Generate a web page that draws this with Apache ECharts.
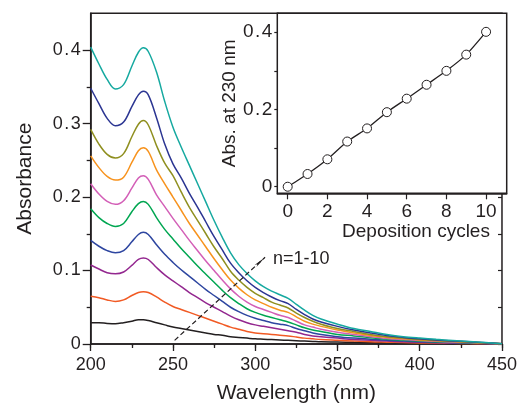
<!DOCTYPE html>
<html>
<head>
<meta charset="utf-8">
<script src="https://cdn.jsdelivr.net/npm/echarts@6/dist/echarts.min.js"></script>
<style>
html,body{margin:0;padding:0;background:#fff;}
#c{width:520px;height:409px;}
</style>
</head>
<body>
<div id="c"></div>
<script>
// ---- Data ----
const wavelengths = [200,205,210,215,220,225,229,232,235,240,245,250,255,260,265,270,275,280,285,290,295,300,305,310,315,320,325,330,335,340,350,360,370,380,390,400,410,420,430,440,450];

const n1  = [0.029,0.029,0.028,0.0275,0.029,0.031,0.033,0.033,0.032,0.029,0.026,0.023,0.021,0.019,0.017,0.015,0.013,0.012,0.010,0.009,0.008,0.007,0.0065,0.006,0.0055,0.005,0.0045,0.004,0.0035,0.003,0.0027,0.0023,0.002,0.0017,0.0014,0.0012,0.001,0.0008,0.0005,0.0003,0.0001];
const n2  = [0.065,0.063,0.060,0.058,0.060,0.066,0.070,0.071,0.070,0.064,0.057,0.051,0.047,0.043,0.039,0.035,0.031,0.027,0.023,0.020,0.017,0.015,0.014,0.013,0.012,0.011,0.0095,0.008,0.007,0.006,0.005,0.004,0.003,0.0025,0.002,0.0015,0.0012,0.0009,0.0006,0.0004,0.0001];
const n3  = [0.1075,0.102,0.097,0.0955,0.098,0.107,0.115,0.117,0.115,0.104,0.094,0.086,0.078,0.070,0.063,0.056,0.050,0.044,0.038,0.033,0.029,0.026,0.024,0.022,0.020,0.018,0.016,0.013,0.011,0.010,0.008,0.006,0.005,0.004,0.003,0.0024,0.0018,0.0014,0.001,0.0006,0.0001];
const n4  = [0.141,0.133,0.127,0.124,0.127,0.139,0.149,0.152,0.149,0.135,0.122,0.111,0.101,0.092,0.083,0.074,0.066,0.058,0.050,0.044,0.039,0.035,0.032,0.029,0.027,0.025,0.021,0.018,0.015,0.013,0.010,0.008,0.0065,0.005,0.004,0.003,0.0024,0.0018,0.0013,0.0008,0.0002];
const n5  = [0.184,0.172,0.164,0.160,0.164,0.180,0.191,0.194,0.190,0.172,0.156,0.143,0.130,0.118,0.106,0.095,0.084,0.073,0.063,0.055,0.048,0.043,0.039,0.036,0.033,0.030,0.026,0.022,0.019,0.017,0.013,0.011,0.0085,0.0065,0.005,0.004,0.003,0.0024,0.0017,0.001,0.0002];
const n6  = [0.218,0.204,0.194,0.190,0.195,0.212,0.226,0.229,0.224,0.203,0.187,0.171,0.156,0.141,0.127,0.113,0.100,0.087,0.075,0.065,0.057,0.051,0.047,0.043,0.039,0.036,0.031,0.026,0.023,0.020,0.016,0.013,0.010,0.0075,0.006,0.0047,0.0036,0.0028,0.002,0.0011,0.0003];
const n7  = [0.256,0.240,0.228,0.223,0.227,0.247,0.263,0.267,0.262,0.237,0.218,0.200,0.182,0.164,0.148,0.132,0.116,0.101,0.087,0.076,0.067,0.060,0.055,0.050,0.046,0.043,0.037,0.031,0.027,0.024,0.019,0.015,0.0115,0.009,0.007,0.0055,0.0043,0.0033,0.0023,0.0013,0.0003];
const n8  = [0.292,0.272,0.258,0.253,0.259,0.282,0.299,0.304,0.298,0.270,0.246,0.229,0.207,0.186,0.168,0.150,0.132,0.116,0.099,0.087,0.077,0.069,0.063,0.057,0.053,0.049,0.042,0.036,0.031,0.027,0.021,0.017,0.013,0.010,0.008,0.006,0.0048,0.0037,0.0026,0.0015,0.0004];
const n9  = [0.348,0.327,0.307,0.297,0.302,0.323,0.339,0.344,0.339,0.308,0.272,0.245,0.226,0.205,0.186,0.166,0.146,0.128,0.110,0.097,0.086,0.077,0.070,0.064,0.059,0.055,0.047,0.040,0.034,0.030,0.024,0.019,0.015,0.0115,0.009,0.007,0.0055,0.0042,0.003,0.0018,0.0005];
const n10 = [0.404,0.381,0.360,0.347,0.353,0.378,0.397,0.403,0.398,0.370,0.330,0.295,0.268,0.243,0.218,0.193,0.168,0.145,0.124,0.108,0.096,0.086,0.078,0.072,0.067,0.062,0.054,0.046,0.039,0.034,0.027,0.021,0.017,0.013,0.010,0.008,0.0063,0.0048,0.0034,0.002,0.0005];

const spectra = [n1,n2,n3,n4,n5,n6,n7,n8,n9,n10];
const spectraColors = ['#231f20','#f15a24','#93278f','#2e46a0','#00a651','#d35fb7','#f7931e','#8f8f1f','#2b3592','#16a9a0'];

const mainYTicks = [0,0.1,0.2,0.3,0.4];
const mainYMinor = [0.05,0.15,0.25,0.35];

const cycles = [0,1,2,3,4,5,6,7,8,9,10];
const absAt230 = [0,0.033,0.071,0.117,0.151,0.193,0.228,0.264,0.300,0.342,0.401];
const insetXTicks = [0,2,4,6,8,10];
const insetXMinor = [1,3,5,7,9];
const insetYTicks = [0,0.2,0.4];
const insetYMinor = [0.1,0.3];

const arrowFrom = [251, 0.005];
const arrowTo = [306, 0.118];
const arrowText = 'n=1-10';

// ---- Chart ----
const FONT = 'Liberation Sans, Arial, Helvetica, sans-serif';
const INK = '#231f20';
const chart = echarts.init(document.getElementById('c'), null, {renderer:'canvas'});
// decimal labels: keep text "0.4" but give the point a little room, as in the reference typesetting
const fmt = v => {
  if (v === 0) return '0';
  const s = v.toFixed(1);
  return '{d|' + s.charAt(0) + '}{p|.}{d|' + s.charAt(2) + '}';
};
const richFor = size => ({
  d:{fontSize:size, fontFamily:'Liberation Sans, Arial, sans-serif', color:'#231f20'},
  p:{fontSize:size, fontFamily:'Liberation Sans, Arial, sans-serif', color:'#231f20', padding:[0,1.5,0,1.5]}
});

const series = spectra.map((arr, i) => ({
  type:'line', xAxisIndex:0, yAxisIndex:0,
  data: wavelengths.map((w, k) => [w, arr[k]]),
  showSymbol:false, smooth:0.35,
  lineStyle:{color:spectraColors[i], width:1.5},
  itemStyle:{color:spectraColors[i]},
  silent:true, z:2
}));
series[0].markLine = {
  silent:true, symbol:['none','arrow'], symbolSize:[2,13],
  lineStyle:{color:INK, type:[5,3], width:1.2},
  itemStyle:{color:INK},
  label:{show:false},
  emphasis:{disabled:true},
  data:[[{coord:arrowFrom},{coord:arrowTo}]],
  animation:false
};
series.push({
  type:'line', xAxisIndex:4, yAxisIndex:4,
  data: cycles.map((c,k)=>[c, absAt230[k]]),
  smooth:0.2, symbol:'circle', symbolSize:9, showSymbol:true,
  lineStyle:{color:INK, width:1.3},
  itemStyle:{color:'#fff', borderColor:INK, borderWidth:1},
  z:10, silent:true
});

const lbl = (size, extra) => Object.assign({color:INK, fontSize:size, fontFamily:FONT}, extra||{});

chart.setOption({
  animation:false,
  backgroundColor:'#fff',
  grid:[
    {left:90.7, top:13.3, width:415.3, height:335, show:true, borderColor:INK, borderWidth:1.5, backgroundColor:'transparent'},
    {left:277.3, top:13.3, width:229.4, height:180, show:true, borderColor:INK, borderWidth:1.5, backgroundColor:'#fff', z:5}
  ],
  xAxis:[
    {gridIndex:0, type:'value', min:200, max:450, interval:50, position:'bottom',
     axisLine:{show:true, onZero:false, lineStyle:{color:INK, width:1.5}},
     axisTick:{show:true, length:7, lineStyle:{color:INK, width:1.3}},
     minorTick:{show:true, splitNumber:2, length:4, lineStyle:{color:INK, width:1.3}},
     splitLine:{show:false},
     axisLabel:lbl(18,{margin:12}),
     name:'Wavelength (nm)', nameLocation:'middle', nameGap:39,
     nameTextStyle:lbl(21)},
    {gridIndex:0, type:'value', min:200, max:450, interval:50, position:'top',
     axisLine:{show:false}, axisLabel:{show:false}, splitLine:{show:false},
     axisTick:{show:true, inside:true, length:4, lineStyle:{color:INK, width:1.2}},
     minorTick:{show:true, splitNumber:2, length:2, lineStyle:{color:INK, width:1.2}}},
    {gridIndex:1, type:'value', min:-0.524, max:11.04, position:'bottom',
     axisLine:{show:true, onZero:false, lineStyle:{color:INK, width:1.5}},
     axisTick:{show:true, length:6, customValues:insetXTicks, lineStyle:{color:INK, width:1.2}},
     splitLine:{show:false},
     axisLabel:lbl(19,{margin:9, customValues:insetXTicks}),
     name:'Deposition cycles', nameLocation:'middle', nameGap:28,
     nameTextStyle:lbl(19,{padding:[0,0,0,48]})},
    {gridIndex:1, type:'value', min:-0.524, max:11.04, position:'bottom',
     axisLine:{show:false}, axisLabel:{show:false}, splitLine:{show:false},
     axisTick:{show:true, length:3, customValues:insetXMinor, lineStyle:{color:INK, width:1.2}}},
    {gridIndex:1, type:'value', min:-0.524, max:11.04, show:false}
  ],
  yAxis:[
    {gridIndex:0, type:'value', min:0, max:0.45, position:'left',
     axisLine:{show:true, onZero:false, lineStyle:{color:INK, width:1.5}},
     axisTick:{show:true, length:8, customValues:mainYTicks, lineStyle:{color:INK, width:1.3}},
     splitLine:{show:false},
     axisLabel:lbl(18,{margin:10, customValues:mainYTicks, formatter:fmt, rich:richFor(18)}),
     name:'Absorbance', nameLocation:'middle', nameGap:55,
     nameTextStyle:lbl(21)},
    {gridIndex:0, type:'value', min:0, max:0.45, position:'left',
     axisLine:{show:false}, axisLabel:{show:false}, splitLine:{show:false},
     axisTick:{show:true, length:4, customValues:mainYMinor, lineStyle:{color:INK, width:1.3}}},
    {gridIndex:0, type:'value', min:0, max:0.45, position:'right',
     axisLine:{show:false}, axisLabel:{show:false}, splitLine:{show:false},
     axisTick:{show:true, inside:true, length:4, customValues:mainYTicks.concat(mainYMinor), lineStyle:{color:INK, width:1.2}}},
    {gridIndex:1, type:'value', min:-0.017, max:0.449, position:'left',
     axisLine:{show:true, onZero:false, lineStyle:{color:INK, width:1.5}},
     axisTick:{show:true, length:3, customValues:insetYTicks.concat(insetYMinor), lineStyle:{color:INK, width:1.2}},
     splitLine:{show:false},
     axisLabel:lbl(19,{margin:5, customValues:insetYTicks, formatter:fmt, rich:richFor(19)}),
     name:'Abs. at 230 nm', nameLocation:'middle', nameGap:36,
     nameTextStyle:lbl(19)},
    {gridIndex:1, type:'value', min:-0.017, max:0.449, show:false}
  ],
  graphic:[
    {type:'text', left:273, top:250, z:20,
     style:{text:arrowText, fill:INK, fontSize:18, fontFamily:FONT}}
  ],
  series:series
});
</script>
</body>
</html>
